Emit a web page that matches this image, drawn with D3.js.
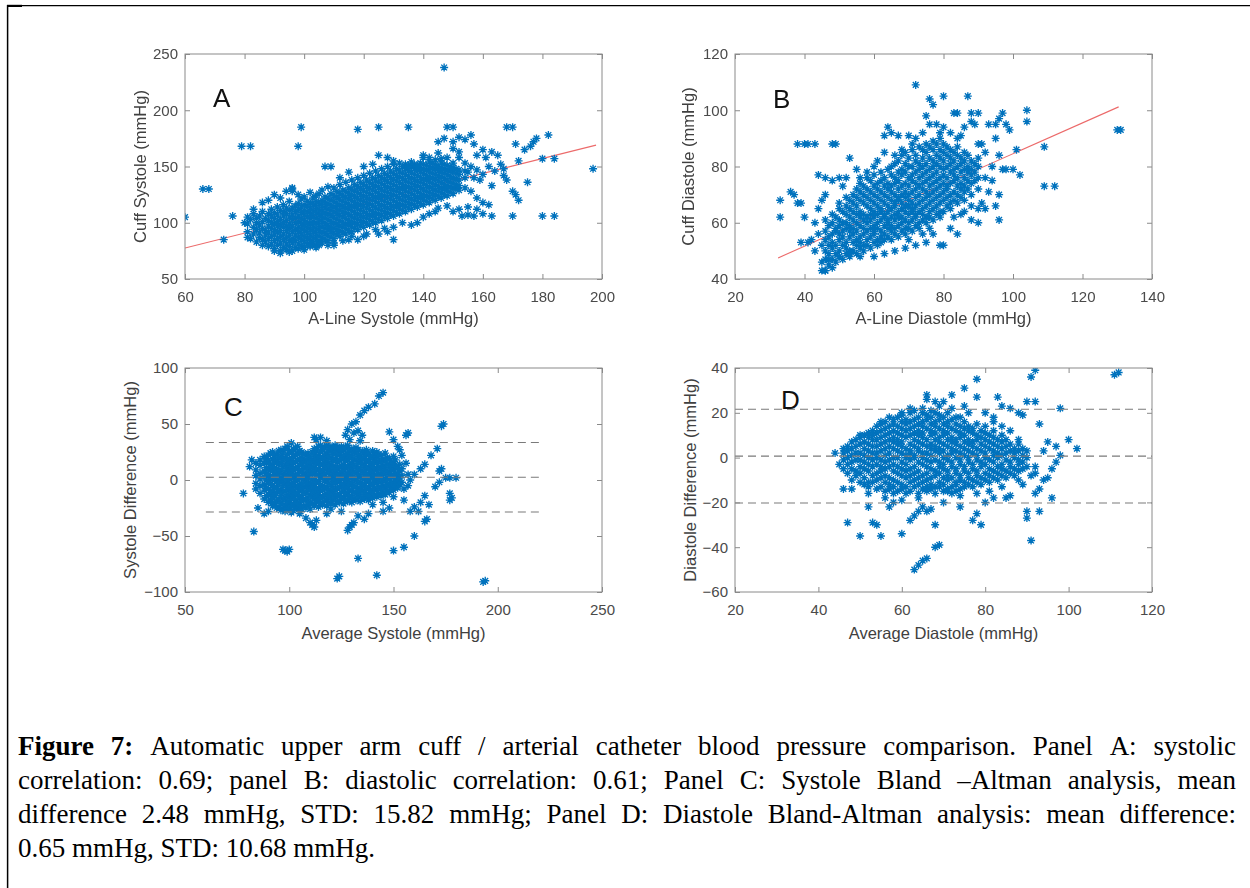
<!DOCTYPE html>
<html><head><meta charset="utf-8">
<script src="https://cdn.jsdelivr.net/npm/d3@7"></script>
<style>body{margin:0;background:#fff}svg{display:block}</style>
</head><body><svg id="fig" width="1250" height="888"></svg>
<script>
// ---------------- DATA ----------------
// Panel A: A-line systole (x) vs cuff systole (y). Dense cluster as columns [x, [y...]]
const systoleClusterA = [
[81,[92,99,105]],[82,[86,103]],[83,[90,96,108]],[84,[83,94,100,104]],[85,[87,91,98,106]],
[86,[80,85,95,101,110]],[87,[83,89,93,104]],[88,[79,86,91,97,102,108]],[89,[81,88,95,100,106,112]],
[90,[77,84,90,94,99,104,109]],[91,[80,86,92,97,101,107,114]],[92,[75,82,88,93,98,103,111]],
[93,[78,85,90,96,100,106,110,116]],[94,[76,81,87,93,97,102,108,113]],[95,[79,84,89,95,99,105,111,119]],
[96,[75,82,86,92,97,103,107,113,128,131]],[97,[78,84,89,94,100,104,110,115]],[98,[77,81,87,92,96,101,106,112,117,125]],
[99,[80,85,90,95,99,104,109,114,121]],[100,[78,83,88,93,98,102,107,111,116,123]],[101,[81,86,91,96,100,105,110,115,119]],
[102,[79,84,89,94,99,104,108,113,118,127]],[103,[82,87,92,97,101,106,111,116,122]],[104,[80,85,90,95,100,104,109,114,119,124]],
[105,[84,88,93,98,103,107,112,117,126]],[106,[82,87,92,96,101,106,110,115,120,129]],[107,[85,90,95,99,104,109,113,118,123]],
[108,[84,89,94,98,103,108,112,117,122,132]],[109,[87,92,96,101,106,111,115,120,126]],[110,[86,91,95,100,105,110,114,119,124,131]],
[111,[89,94,98,103,108,113,117,122,128]],[112,[88,93,97,102,107,111,116,121,126,134]],[113,[91,96,100,105,110,114,119,124,129]],
[114,[90,95,99,104,109,113,118,123,128,136]],[115,[93,98,102,107,112,116,121,126,131]],[116,[92,97,101,106,111,115,120,125,130,138]],
[117,[95,100,104,109,114,118,123,128,134]],[118,[94,99,103,108,113,117,122,127,132,140]],[119,[97,102,106,111,116,120,125,130,136]],
[120,[96,101,105,110,115,119,124,129,134,142]],[121,[99,104,108,113,118,122,127,132,138]],[122,[98,103,107,112,117,121,126,131,136,144]],
[123,[101,106,110,115,120,124,129,134,140]],[124,[100,105,109,114,119,123,128,133,138,146]],[125,[103,108,112,117,122,126,131,136,142]],
[126,[102,107,111,116,121,125,130,135,140,148]],[127,[105,110,114,119,124,128,133,138,144]],[128,[104,109,113,118,123,127,132,137,142,150]],
[129,[107,112,116,121,126,130,135,140,146]],[130,[106,111,115,120,125,129,134,139,144,152]],[131,[109,114,118,123,128,132,137,142,148]],
[132,[108,113,117,122,127,131,136,141,146,153]],[133,[111,116,120,125,130,134,139,144,150]],[134,[110,115,119,124,129,133,138,143,148,152]],
[135,[113,118,122,127,132,136,141,146,151]],[136,[112,117,121,126,131,135,140,145,150,154]],[137,[115,120,124,129,134,138,143,148,152]],
[138,[114,119,123,128,133,137,142,147,151]],[139,[117,122,126,131,136,140,145,149,153]],[140,[116,121,125,130,135,139,144,148,152]],
[141,[119,124,128,133,138,142,147,151]],[142,[118,123,127,132,137,141,146,150,154]],[143,[121,126,130,135,140,144,149,153]],
[144,[120,125,129,134,139,143,148,152]],[145,[123,128,132,137,142,146,150]],[146,[122,127,131,136,141,145,149,153]],
[147,[125,130,134,139,144,148,152]],[148,[124,129,133,138,143,147,151]],[149,[127,132,136,141,146,150]],
[150,[126,131,135,140,145,149,153]],[151,[130,134,139,144,148]],[152,[129,133,138,143,147]],[154,[131,140,146]]
];
const systoleOutliersA = [
[60,105],[66,130],[68,130],[73,85],[76,106],[79,168],[82,168],[98,168],[99,185],[80,100],[81,87],[83,112],[86,118],[88,120],
[90,125],[92,122],[94,128],[96,130],[102,80],[105,80],[108,80],[110,82],[113,84],[116,88],[118,85],[121,90],[124,94],[127,95],
[130,96],[133,100],[130,85],[107,150],[109,150],[118,183],[125,185],[135,185],[147,238],[112,140],[115,145],[120,150],[123,152],
[145,172],[147,175],[148,185],[150,185],[150,172],[152,176],[154,174],[156,178],[157,170],[158,160],[160,165],[161,158],[163,163],
[165,160],[162,150],[164,146],[166,152],[167,148],[168,185],[170,185],[171,170],[172,155],[174,165],[176,168],[177,172],[178,175],
[180,157],[182,178],[184,157],[197,148],[155,145],[157,140],[159,138],[163,133],[156,128],[158,122],[160,118],[162,116],[167,142],
[168,138],[170,128],[171,125],[172,120],[175,136],[153,106],[155,107],[157,106],[163,106],[170,106],[180,106],[184,106],[150,110],
[152,112],[155,114],[158,112],[160,108],[145,113],[148,115],[138,100],[140,105],[142,108],[144,110],[136,98],[128,92],[125,90],
[120,88],[115,85],[110,80],[104,78],[100,76],[95,74],[92,73],[90,75],[125,160],[128,158],[130,155],[140,160],[142,158],[145,162],
[152,158],[154,153],[156,150],[158,147],[160,143],[152,163],[150,166],[148,158],[146,157],[135,150],[138,150],[140,158],[144,156]
];
const fitAx = [60, 198], fitAy = [77.5, 169];

// Panel B: A-line diastole (x) vs cuff diastole (y)
const diastoleClusterB = [
[46,[43,47,50,54,57,61]],[47,[45,49,52,55,59]],[48,[44,47,51,53,56,60,63]],[49,[46,49,52,57,58,62]],
[50,[48,50,54,56,59,61,65,67]],[51,[47,52,55,57,60,64]],[52,[49,51,53,58,60,63,66,69]],[53,[48,50,55,57,59,62,65,68]],
[54,[50,53,56,58,61,64,67,70]],[55,[49,52,54,57,60,63,66,69,72]],[56,[51,53,55,59,62,64,68,71,74]],[57,[50,52,56,58,61,63,67,70,73]],
[58,[52,54,57,60,62,66,69,72,76]],[59,[51,55,58,61,63,65,68,71,75]],[60,[53,56,57,59,62,64,67,70,73,77]],[61,[52,54,58,60,63,66,69,72,74]],
[62,[53,55,57,61,64,65,68,71,75,78]],[63,[54,56,59,62,63,67,70,73,76]],[64,[55,58,60,61,64,66,69,72,74,79]],[65,[54,57,59,62,65,68,71,73,77,80]],
[66,[56,58,61,63,66,67,70,74,76,81]],[67,[55,59,62,64,68,69,72,75,78,82]],[68,[57,60,62,65,67,70,73,77,79,84]],[69,[56,58,61,64,66,69,71,74,78,81,85]],
[70,[58,60,63,66,68,70,73,76,80,83]],[71,[57,61,64,65,67,71,75,77,80,86]],[72,[59,62,63,66,69,72,74,78,82,84]],[73,[58,60,64,67,70,73,76,79,81,87]],
[74,[61,63,65,68,72,74,77,80,83,86]],[75,[60,62,66,69,71,75,78,81,85,88]],[76,[62,64,67,70,73,76,79,83,87]],[77,[61,65,68,71,74,77,80,82,86,89]],
[78,[63,66,69,72,75,78,81,84,88]],[79,[62,64,67,70,73,76,80,83,86,90]],[80,[64,68,71,74,77,79,82,85,88]],[81,[66,69,72,73,76,80,84,87]],
[82,[65,67,70,74,78,81,83,86]],[83,[68,71,75,77,79,82,85]],[84,[67,70,73,76,80,84,87]],[85,[69,72,74,78,81,83]],
[86,[71,73,76,79,82,85]],[87,[72,75,78,80,84]],[88,[74,77,79,82]],[89,[75,78,81]],[90,[76,80,83]]
];
const diastoleOutliersB = [
[33,68],[33,62],[36,71],[37,70],[38,67],[39,67],[40,62],[39,53],[41,53],[42,54],[38,88],[40,88],[41,88],[43,88],[48,88],[49,88],
[44,77],[46,76],[48,75],[50,76],[52,76],[53,83],[55,79],[51,73],[45,68],[46,70],[44,65],[43,60],[44,56],[43,50],[45,52],
[72,109],[76,104],[77,102],[80,105],[87,105],[88,96],[89,95],[90,99],[88,99],[83,99],[84,99],[91,88],[93,95],[95,95],[96,97],
[97,99],[98,95],[99,93],[104,100],[104,96],[86,94],[85,91],[64,94],[65,92],[63,91],[67,91],[70,91],[72,90],[74,92],[76,95],
[78,95],[80,94],[75,98],[79,92],[82,92],[84,90],[71,88],[68,86],[66,84],[63,85],[60,80],[58,78],[56,76],[61,82],
[101,86],[109,87],[109,73],[112,73],[130,93],[131,93],[97,79],[98,79],[100,79],[102,77],[96,70],[95,66],[90,65],[92,65],[96,61],
[88,61],[90,60],[91,67],[93,71],[94,75],[86,68],[88,70],[85,63],[82,58],[84,56],[80,52],[79,52],[75,53],[77,56],[83,62],[86,64],
[88,66],[90,72],[92,76],[94,80],[96,84],[92,85],[90,88],[95,90],
[45,43],[46,43],[45,46],[47,47],[50,48],[53,49],[56,48],[60,48],[63,49],[66,50],[69,51],[72,52],[70,54],[74,56],[76,58]
];
const fitBx = [32.4, 130.4], fitBy = [47.5, 101.2];

// Panel C: average systole (x) vs systole difference (y)
const systoleDiffClusterC = [
[84,[-8,-3,4,9,15]],[86,[-12,-5,1,6,13,18]],[88,[-17,-9,-4,3,8,15,21]],[89,[-14,-7,0,6,11,19]],
[90,[-20,-13,-8,-1,5,10,17,22]],[91,[-18,-11,-3,2,9,14,24]],[92,[-23,-16,-10,-5,1,8,12,19,25]],[93,[-21,-14,-7,0,4,11,16,22]],
[94,[-25,-19,-12,-6,-1,6,10,17,23]],[95,[-24,-17,-9,-3,3,8,14,20,26]],[96,[-27,-21,-14,-9,-2,2,9,15,21,27]],
[97,[-26,-18,-11,-5,0,5,12,18,24]],[98,[-28,-22,-16,-10,-3,3,7,13,20,28]],[99,[-24,-19,-13,-7,-1,4,10,16,23,30]],
[100,[-26,-20,-15,-8,-4,1,8,14,19,26]],[101,[-29,-23,-17,-11,-6,2,6,12,17,24,33]],[102,[-27,-21,-14,-9,-2,3,9,15,21,27]],
[103,[-24,-18,-12,-5,-1,5,11,16,22,29]],[104,[-25,-20,-13,-7,0,4,10,18,24,30]],[105,[-28,-22,-16,-10,-4,2,7,13,19,26]],
[106,[-26,-19,-14,-8,-3,3,9,15,20,25]],[107,[-23,-17,-11,-6,1,6,12,17,23]],[108,[-25,-18,-12,-5,-1,4,11,16,22]],
[109,[-22,-16,-9,-3,2,8,13,19,24]],[110,[-26,-20,-13,-7,-2,5,10,15,21]],[111,[-21,-15,-10,-4,1,7,12,18,25]],
[112,[-23,-17,-11,-6,0,6,11,17,23,28]],[113,[-20,-14,-8,-2,4,9,14,20,26]],[114,[-24,-18,-13,-7,-1,5,10,16,22,30]],
[115,[-21,-16,-10,-4,2,8,13,19,25,31]],[116,[-22,-15,-9,-5,3,7,14,20,27]],[117,[-19,-13,-7,-1,5,10,16,22,29]],
[118,[-23,-17,-12,-6,0,6,12,18,24,31]],[119,[-20,-14,-9,-3,2,9,15,21,27]],[120,[-21,-16,-10,-4,3,8,13,20,26,30]],
[121,[-18,-12,-7,-1,5,11,17,23,28]],[122,[-22,-15,-9,-3,1,7,12,19,25,31]],[123,[-19,-13,-8,-2,4,10,16,22,29]],
[124,[-20,-14,-6,0,6,12,18,24,28]],[125,[-17,-11,-5,1,7,13,19,26,30]],[126,[-21,-15,-9,-3,3,9,14,21,27]],
[127,[-18,-12,-6,0,5,11,17,23,29]],[128,[-19,-13,-7,-1,6,12,18,24,31]],[129,[-16,-10,-4,2,8,14,20,26]],
[130,[-20,-14,-9,-2,4,10,15,22,28]],[131,[-17,-11,-5,1,7,13,19,25]],[132,[-18,-12,-6,0,6,12,18,24,29]],
[133,[-15,-10,-3,3,9,15,21,27]],[134,[-19,-13,-8,-2,5,11,17,23]],[135,[-16,-10,-4,2,8,14,20,26]],
[136,[-17,-11,-5,1,7,13,19,25]],[137,[-14,-8,-2,4,10,16,22,27]],[138,[-18,-12,-6,0,6,12,18,24]],
[139,[-15,-9,-3,3,9,15,21]],[140,[-16,-10,-4,2,8,14,20,26]],[141,[-13,-7,-1,5,11,17,23]],
[142,[-15,-9,-3,3,9,15,21,25]],[143,[-12,-6,0,6,12,18,23]],[144,[-14,-8,-2,4,10,16,22]],
[145,[-11,-5,1,7,13,19]],[146,[-13,-7,-1,5,11,17,24]],[147,[-10,-4,2,8,14,20]],[148,[-11,-5,1,7,13,19]],
[149,[-8,-2,4,10,16]],[150,[-9,-3,3,9,15,21]],[151,[-6,0,6,12,18]],[152,[-7,-1,5,11]],[153,[-4,2,8,14]],[154,[-2,4,10]]
];
const systoleDiffOutliersC = [
[78,-12],[81,12],[82,18],[83,-46],[85,-25],[88,-30],[90,-28],[98,-63],[99,-64],[100,-62],[97,-62],[105,-30],[108,-34],[110,-38],
[111,-40],[112,-42],[113,-36],[112,38],[113,36],[115,38],[118,35],[123,-88],[124,-86],[129,-42],[130,-40],[128,-45],[131,-38],
[133,-32],[136,-35],[133,-70],[142,-85],[150,-63],[155,-60],[160,-50],[165,-37],[166,-35],[162,-28],[158,-28],[160,-24],[163,-20],
[165,-14],[167,-22],[170,-6],[172,-2],[175,2],[177,2],[180,2],[177,-12],[178,-16],[177,-18],[172,8],[173,10],[173,48],[174,50],
[171,28],[168,22],[165,14],[163,10],[160,5],[158,0],[157,-5],[156,40],[157,42],[148,43],[150,36],[152,30],[153,27],[154,22],
[193,-91],[194,-90],[127,40],[128,45],[130,50],[132,52],[134,58],[136,62],[138,65],[141,68],[143,75],[145,78],[131,42],[133,44],
[135,40],[129,36],[134,35],[120,-26],[125,-28],[140,-22],[145,-20],[150,-15],[155,-8],[157,5],[156,15],[155,-18],[118,-30],
[145,-28],[148,-25],[138,-30]
];
const limitsC = [33.49, 2.48, -28.53];
const limitsCx = [60, 220];

// Panel D: average diastole (x) vs diastole difference (y)
const diastoleDiffClusterD = [
[46,[-5,-1,2,4]],[47,[-7,-3,0,3,5]],[48,[-10,-5,-2,1,4,7]],[49,[-8,-6,-1,2,5,8]],[50,[-11,-7,-4,-1,2,6,9]],
[51,[-12,-9,-5,-2,1,4,7,10]],[52,[-13,-11,-6,-3,0,3,6,9,11]],[53,[-11,-8,-4,-1,2,5,8,10,12]],[54,[-14,-10,-7,-3,0,2,5,8,11,14]],
[55,[-13,-9,-6,-4,-1,3,6,9,12,15]],[56,[-15,-11,-8,-5,-2,1,4,7,10,13,16]],[57,[-14,-12,-9,-4,-1,2,5,8,11,14]],
[58,[-16,-13,-10,-6,-3,0,4,7,9,12,15,17]],[59,[-15,-11,-7,-4,0,3,6,8,11,14,18]],[60,[-14,-12,-8,-5,-2,2,5,7,10,13,16,19]],
[61,[-16,-13,-9,-6,-3,0,1,4,9,12,15,17]],[62,[-15,-11,-8,-5,-1,2,3,6,10,13,16,20]],[63,[-13,-10,-7,-4,0,1,5,8,11,14,17,21]],
[64,[-16,-12,-9,-6,-2,3,4,7,10,12,15,18]],[65,[-14,-11,-8,-3,0,2,6,9,11,14,16,20,22]],[66,[-15,-13,-10,-7,-4,-1,2,5,8,13,17,19]],
[67,[-14,-12,-9,-5,-2,1,4,6,10,12,15,18,21]],[68,[-16,-13,-8,-6,-1,3,5,8,11,14,16,20]],[69,[-13,-11,-7,-4,-2,2,4,7,9,13,17,19,23]],
[70,[-15,-12,-9,-5,-3,0,3,6,10,12,15,18]],[71,[-14,-10,-8,-6,-1,1,5,8,11,14,16,20]],[72,[-16,-13,-9,-4,-2,2,4,7,9,13,17]],
[73,[-12,-11,-7,-5,0,3,6,8,12,15,18]],[74,[-14,-10,-8,-3,-1,2,5,9,11,14]],[75,[-13,-11,-6,-4,1,4,7,10,13,16]],
[76,[-12,-9,-7,-2,0,3,6,8,12,14]],[77,[-13,-10,-5,-3,2,5,7,11,13]],[78,[-11,-8,-6,-1,1,4,8,10,15]],[79,[-12,-9,-4,-2,3,6,9,12]],
[80,[-10,-7,-3,0,2,5,8,11,14]],[81,[-11,-8,-5,-1,4,7,10]],[82,[-9,-6,-2,1,3,6,9,12]],[83,[-10,-7,-4,0,2,5,8]],
[84,[-8,-5,-3,1,4,7,10]],[85,[-9,-6,-1,2,5,8]],[86,[-7,-4,-2,3,6]],[87,[-8,-5,0,2,4]],[88,[-6,-3,-1,3,6]],[89,[-5,-2,1,4]],[90,[-4,0,3]]
];
const diastoleDiffOutliersD = [
[44,2],[45,-3],[46,-14],[47,-29],[50,-35],[52,-22],[53,-29],[54,-30],[55,-35],[57,-22],[58,-20],[60,-34],[62,-28],[63,-26],
[64,-24],[65,-22],[66,-24],[67,-23],[68,-30],[68,-40],[69,-39],[63,-50],[64,-48],[65,-46],[66,-45],[71,-15],[73,-15],[74,-22],
[77,-28],[79,-30],[78,-25],[80,-20],[81,-15],[82,-18],[85,-18],[86,-17],[90,-24],[90,-27],[91,-37],[92,-16],[93,-24],[91,-8],
[92,-7],[94,-10],[95,-9],[96,-18],[97,-2],[98,1],[100,8],[102,4],[97,5],[95,7],[93,15],[92,25],[90,25],[91,36],[92,39],[98,22],
[111,37],[112,38],[78,35],[75,31],[72,28],[66,28],[66,26],[68,25],[70,25],[78,27],[83,27],[84,23],[86,22],[88,20],[89,19],
[80,20],[82,18],[75,23],[74,18],[60,20],[62,22],[57,18],[55,16],[50,10],[48,-14],[52,-16],[56,-18],[60,-19],[64,-18],[70,-20],
[74,-17],[78,-16],[84,-13],[88,-10],[92,-4],[94,3],[96,-5],[88,8],[86,12],[84,14],[82,16],[76,20],[72,22],[93,-14],[89,-12]
];
const limitsD = [21.58, 0.65, -20.28];
const limitsDx = [20, 120];

// Tick labels
const ticksAx = [60,80,100,120,140,160,180,200], ticksAy = [50,100,150,200,250];
const ticksBx = [20,40,60,80,100,120,140],       ticksBy = [40,60,80,100,120];
const ticksCx = [50,100,150,200,250],            ticksCy = [-100,-50,0,50,100];
const ticksDx = [20,40,60,80,100,120],           ticksDy = [-60,-40,-20,0,20,40];

const captionLines = [
  "Figure 7: Automatic upper arm cuff / arterial catheter blood pressure comparison. Panel A: systolic",
  "correlation: 0.69; panel B: diastolic correlation: 0.61; Panel C: Systole Bland \u2013Altman analysis, mean",
  "difference 2.48 mmHg, STD: 15.82 mmHg; Panel D: Diastole Bland-Altman analysis: mean difference:",
  "0.65 mmHg, STD: 10.68 mmHg."
];
const captionBoldWords = 2;

// ---------------- DRAWING ----------------
const svg = d3.select("#fig");
const flat = cols => cols.flatMap(([x, ys]) => ys.map(y => [x, y]));
const BLUE = "#0072BD";
const SANS = "'Liberation Sans', Arial, sans-serif";

const defs = svg.append("defs");
defs.append("filter").attr("id", "soft").attr("x", "-5%").attr("y", "-5%").attr("width", "110%").attr("height", "110%")
  .append("feGaussianBlur").attr("stdDeviation", 0.55);

// frame
svg.append("line").attr("x1",7.6).attr("y1",5).attr("x2",7.6).attr("y2",888).attr("stroke","#000").attr("stroke-width",1.5);
svg.append("line").attr("x1",7).attr("y1",5.6).attr("x2",1250).attr("y2",5.6).attr("stroke","#000").attr("stroke-width",1.3);
svg.append("rect").attr("x",7).attr("y",4.8).attr("width",15).attr("height",2.2).attr("fill","#000");

const panels = [
  {px:[185,602], py:[54,279], xd:[60,200], yd:[50,250], tx:ticksAx, ty:ticksAy,
   xl:"A-Line Systole (mmHg)", yl:"Cuff Systole (mmHg)", ylx:146, xly:324, letter:"A", lx:213, ly:107,
   pts: flat(systoleClusterA).concat(systoleOutliersA), fit:[fitAx, fitAy]},
  {px:[735,1152], py:[54,279], xd:[20,140], yd:[40,120], tx:ticksBx, ty:ticksBy,
   xl:"A-Line Diastole (mmHg)", yl:"Cuff Diastole (mmHg)", ylx:694, xly:324, letter:"B", lx:773, ly:108,
   pts: flat(diastoleClusterB).concat(diastoleOutliersB), fit:[fitBx, fitBy]},
  {px:[185,602], py:[368,592], xd:[50,250], yd:[-100,100], tx:ticksCx, ty:ticksCy,
   xl:"Average Systole (mmHg)", yl:"Systole Difference (mmHg)", ylx:136, xly:639, letter:"C", lx:224, ly:416,
   pts: flat(systoleDiffClusterC).concat(systoleDiffOutliersC), lim:[limitsCx, limitsC]},
  {px:[735,1152], py:[368,592], xd:[20,120], yd:[-60,40], tx:ticksDx, ty:ticksDy,
   xl:"Average Diastole (mmHg)", yl:"Diastole Difference (mmHg)", ylx:696, xly:639, letter:"D", lx:781, ly:409,
   pts: flat(diastoleDiffClusterD).concat(diastoleDiffOutliersD), lim:[limitsDx, limitsD]}
];

const r = 4, a = r * 0.72;
const star = `M${-r},0H${r}M0,${-r}V${r}M${-a},${-a}L${a},${a}M${-a},${a}L${a},${-a}`;

panels.forEach(p => {
  const x = d3.scaleLinear().domain(p.xd).range(p.px);
  const y = d3.scaleLinear().domain(p.yd).range([p.py[1], p.py[0]]);
  const g = svg.append("g");
  const AX = "#8a8a8a";

  const cid = "clip" + p.letter;
  defs.append("clipPath").attr("id", cid).append("rect")
    .attr("x", p.px[0]).attr("y", p.py[0]).attr("width", p.px[1]-p.px[0]).attr("height", p.py[1]-p.py[0]);

  const plot = g.append("g").attr("clip-path", `url(#${cid})`);

  if (p.fit) {
    plot.append("line")
      .attr("x1", x(p.fit[0][0])).attr("y1", y(p.fit[1][0]))
      .attr("x2", x(p.fit[0][1])).attr("y2", y(p.fit[1][1]))
      .attr("stroke", "#ec6a6a").attr("stroke-width", 1.1);
  }
  plot.append("g").attr("filter", "url(#soft)")
    .selectAll("path").data(p.pts).join("path")
    .attr("d", star)
    .attr("transform", d => `translate(${x(d[0])},${y(d[1])})`)
    .attr("fill", "none").attr("stroke", BLUE).attr("stroke-width", 1.35);

  if (p.lim) {
    plot.append("g").selectAll("line").data(p.lim[1]).join("line")
      .attr("x1", x(p.lim[0][0])).attr("x2", x(p.lim[0][1]))
      .attr("y1", d => y(d)).attr("y2", d => y(d))
      .attr("stroke", "#7a7a7a").attr("stroke-width", 1.1).attr("stroke-dasharray", "8,5");
  }

  g.append("rect").attr("x", p.px[0]).attr("y", p.py[0])
    .attr("width", p.px[1]-p.px[0]).attr("height", p.py[1]-p.py[0])
    .attr("fill", "none").attr("stroke", AX).attr("stroke-width", 1);

  const style = sel => {
    sel.select(".domain").remove();
    sel.selectAll(".tick line").attr("stroke", AX);
    sel.selectAll("text").attr("fill", "#4a4a4a").attr("font-family", SANS).attr("font-size", 15);
  };
  g.append("g").attr("transform", `translate(0,${p.py[1]})`)
    .call(d3.axisBottom(x).tickValues(p.tx).tickSizeInner(-5).tickSizeOuter(0).tickPadding(12)).call(style);
  g.append("g").attr("transform", `translate(0,${p.py[0]})`)
    .call(d3.axisTop(x).tickValues(p.tx).tickSizeInner(-5).tickSizeOuter(0).tickFormat("")).call(style);
  g.append("g").attr("transform", `translate(${p.px[0]},0)`)
    .call(d3.axisLeft(y).tickValues(p.ty).tickSizeInner(-5).tickSizeOuter(0).tickPadding(7)).call(style);
  g.append("g").attr("transform", `translate(${p.px[1]},0)`)
    .call(d3.axisRight(y).tickValues(p.ty).tickSizeInner(-5).tickSizeOuter(0).tickFormat("")).call(style);

  g.append("text").attr("x", (p.px[0]+p.px[1])/2).attr("y", p.xly)
    .attr("text-anchor", "middle").attr("font-family", SANS).attr("font-size", 16.5).attr("fill", "#404040")
    .text(p.xl);
  g.append("text").attr("transform", `translate(${p.ylx},${(p.py[0]+p.py[1])/2}) rotate(-90)`)
    .attr("text-anchor", "middle").attr("font-family", SANS).attr("font-size", 16.5).attr("fill", "#404040")
    .text(p.yl);
  g.append("text").attr("x", p.lx).attr("y", p.ly)
    .attr("font-family", SANS).attr("font-size", 26).attr("fill", "#111").text(p.letter);
});

// caption, justified
const capX0 = 18, capX1 = 1236, capY0 = 755, capDY = 34, capFS = 27;
const SERIF = "'Liberation Serif', 'Times New Roman', serif";
captionLines.forEach((line, li) => {
  const words = line.split(" ");
  const texts = words.map((w, wi) => svg.append("text")
    .attr("y", capY0 + li * capDY)
    .attr("font-family", SERIF).attr("font-size", capFS).attr("fill", "#000")
    .attr("font-weight", (li === 0 && wi < captionBoldWords) ? "bold" : "normal")
    .text(w));
  const widths = texts.map(t => t.node().getComputedTextLength());
  const total = d3.sum(widths);
  const last = li === captionLines.length - 1;
  const gap = last ? capFS * 0.25 : (capX1 - capX0 - total) / (words.length - 1);
  let xx = capX0;
  texts.forEach((t, i) => { t.attr("x", xx); xx += widths[i] + gap; });
});
</script>
</body></html>
